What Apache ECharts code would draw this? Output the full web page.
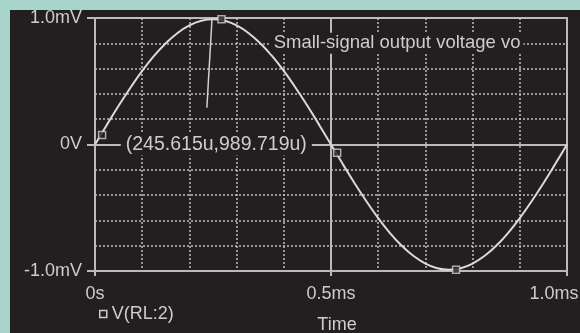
<!DOCTYPE html>
<html>
<head>
<meta charset="utf-8">
<script src="https://cdn.jsdelivr.net/npm/echarts@6/dist/echarts.min.js"></script>
<style>
  html, body { margin: 0; padding: 0; background: #a7d4cb; width: 580px; height: 333px; overflow: hidden; }
  #main { position: absolute; left: 10px; top: 10px; width: 570px; height: 323px; background: #231f20; }
</style>
</head>
<body>
<div id="main"></div>
<script>
// time in ms
const timeMs = [0, 0.025, 0.05, 0.075, 0.1, 0.125, 0.15, 0.175, 0.2, 0.225, 0.25,
  0.275, 0.3, 0.325, 0.35, 0.375, 0.4, 0.425, 0.45, 0.475, 0.5,
  0.525, 0.55, 0.575, 0.6, 0.625, 0.65, 0.675, 0.7, 0.725, 0.75,
  0.775, 0.8, 0.825, 0.85, 0.875, 0.9, 0.925, 0.95, 0.975, 1.0];
// V(RL:2) in mV
const voltageMv = [0, 0.155, 0.306, 0.449, 0.582, 0.700, 0.801, 0.882, 0.941, 0.978, 0.990,
  0.978, 0.941, 0.882, 0.801, 0.700, 0.582, 0.449, 0.306, 0.155, 0,
  -0.155, -0.306, -0.449, -0.582, -0.700, -0.801, -0.882, -0.941, -0.978, -0.990,
  -0.978, -0.941, -0.882, -0.801, -0.700, -0.582, -0.449, -0.306, -0.155, 0];
// trace marker symbols
const markerTime = [0.015, 0.268, 0.513, 0.765];
const markerMv = [0.075, 0.99, -0.065, -0.99];
// cursor
const cursorTime = [0.248, 0.237];
const cursorMv = [1.0, 0.29];
const cursorLabel = '(245.615u,989.719u)';
const cursorLabelPos = [0.257, 0];
const traceTitle = 'Small-signal output voltage vo';
const traceTitlePos = [0.64, 0.8];
const seriesName = 'V(RL:2)';
const xTickLabels = { 0: '0s', 0.5: '0.5ms', 1: '1.0ms' };
const yTickLabels = { '-1': '-1.0mV', 0: '0V', 1: '1.0mV' };
const xAxisName = 'Time';

const TXT = '#cdcdcd';
const GRID = '#c0c0c0';
const SOLID = '#bababa';
const FONT = 'Liberation Sans';

const chart = echarts.init(document.getElementById('main'));
chart.setOption({
  animation: false,
  backgroundColor: '#231f20',
  textStyle: { fontFamily: FONT },
  grid: { left: 85, top: 8, right: 13, bottom: 62, outerBoundsMode: 'none', containLabel: false,
    show: true, borderColor: SOLID, borderWidth: 2, backgroundColor: 'transparent' },
  legend: {
    left: 84, top: 290,
    itemWidth: 7, itemHeight: 7,
    textStyle: { color: TXT, fontSize: 18, fontFamily: FONT },
    data: [{ name: seriesName, icon: 'rect', itemStyle: { color: '#231f20', borderColor: TXT, borderWidth: 1.5 } }]
  },
  xAxis: [
    { type: 'value', min: 0, max: 1, interval: 0.1, position: 'bottom',
      axisLine: { show: false, onZero: false }, axisTick: { show: false }, axisLabel: { show: false },
      splitLine: { show: true, lineStyle: { color: GRID, width: 1.5, type: [2, 2] } } },
    { type: 'value', min: 0, max: 1, interval: 0.5, position: 'bottom',
      name: xAxisName, nameLocation: 'middle', nameGap: 45,
      nameTextStyle: { color: TXT, fontSize: 18, fontFamily: FONT, padding: [0, 0, 0, 12] },
      axisLine: { show: true, onZero: false, lineStyle: { color: SOLID, width: 2 } },
      axisTick: { show: true, length: 5, lineStyle: { color: SOLID, width: 2 } },
      axisLabel: { show: true, color: TXT, fontSize: 18, fontFamily: FONT, margin: 14,
        formatter: v => v === 1 ? '{r|' + xTickLabels[v] + '}' : (xTickLabels[v] || ''),
        rich: { r: { color: TXT, fontSize: 18, fontFamily: FONT, padding: [0, 26, 0, 0] } } },
      splitLine: { show: true, lineStyle: { color: SOLID, width: 2 } } }
  ],
  yAxis: [
    { type: 'value', min: -1, max: 1, interval: 0.2,
      axisLine: { show: false, onZero: false }, axisTick: { show: false }, axisLabel: { show: false },
      splitLine: { show: true, lineStyle: { color: GRID, width: 1.5, type: [2, 2] } } },
    { type: 'value', min: -1, max: 1, interval: 1, position: 'left',
      axisLine: { show: true, onZero: false, lineStyle: { color: SOLID, width: 2 } },
      axisTick: { show: true, length: 8, lineStyle: { color: SOLID, width: 2 } },
      axisLabel: { show: true, color: TXT, fontSize: 18, fontFamily: FONT, margin: 13,
        formatter: v => yTickLabels[v] || '' },
      splitLine: { show: true, lineStyle: { color: SOLID, width: 2 } } }
  ],
  series: [
    { name: seriesName, type: 'line', xAxisIndex: 0, yAxisIndex: 0,
      data: timeMs.map((t, i) => [t, voltageMv[i]]),
      showSymbol: false, smooth: 0.2,
      lineStyle: { color: '#dadada', width: 2 }, itemStyle: { color: '#dadada' },
      markLine: { silent: true, symbol: 'none', label: { show: false },
        lineStyle: { color: '#cfcfcf', width: 1.5, type: 'solid' },
        data: [[{ coord: [cursorTime[0], cursorMv[0]] }, { coord: [cursorTime[1], cursorMv[1]] }]] },
      markPoint: { silent: true, symbol: 'rect', symbolSize: 1, itemStyle: { color: 'rgba(0,0,0,0)' },
        data: [
          { coord: cursorLabelPos, label: { show: true, position: 'inside', formatter: cursorLabel, color: TXT, fontSize: 19.5, fontFamily: FONT, backgroundColor: '#231f20', padding: [1, 5] } },
          { coord: traceTitlePos, label: { show: true, position: 'inside', formatter: traceTitle, color: TXT, fontSize: 18.5, fontFamily: FONT, backgroundColor: '#231f20', padding: [1, 3] } }
        ] } },
    { name: 'markers', type: 'scatter', xAxisIndex: 0, yAxisIndex: 0,
      data: markerTime.map((t, i) => [t, markerMv[i]]),
      symbol: 'rect', symbolSize: 7,
      itemStyle: { color: '#231f20', borderColor: '#d0d0d0', borderWidth: 1.5 }, z: 5 }
  ]
});
</script>
</body>
</html>
